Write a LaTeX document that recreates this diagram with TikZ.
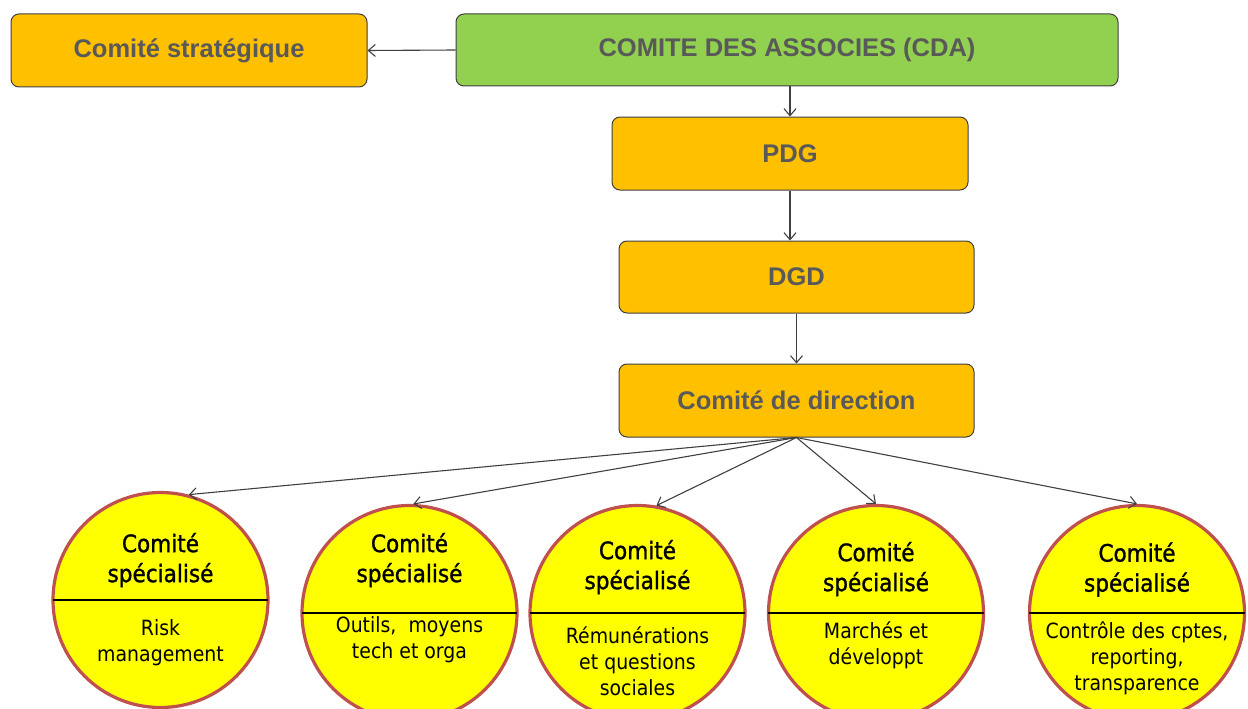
\documentclass[tikz,border=0pt]{standalone}
\usepackage{fontspec}
\setmainfont{Liberation Sans}
\newfontfamily\circfont[FakeStretch=0.9]{DejaVu Sans}
\newfontfamily\circheadfont[FakeStretch=0.9,FakeBold=1.2]{DejaVu Sans}
\usetikzlibrary{arrows.meta}
\definecolor{orangebox}{HTML}{FFC000}
\definecolor{greenbox}{HTML}{92D050}
\definecolor{yel}{HTML}{FFFF00}
\definecolor{ring}{HTML}{C0504D}
\definecolor{boxtext}{HTML}{595959}
\definecolor{edge}{HTML}{404040}
\begin{document}
\begin{tikzpicture}[x=1pt,y=-1pt,
 box/.style={draw=edge, line width=1pt, rounded corners=8pt, fill=orangebox,
   font=\fontsize{25.5}{30}\selectfont\bfseries, text=boxtext, inner sep=0pt},
 comite/.style={circle, draw=ring, line width=3.2pt, fill=yel, minimum size=215pt, inner sep=0pt},
 head/.style={font=\circheadfont\fontsize{24}{30}\selectfont, align=center, inner sep=0pt},
 sub/.style={font=\circfont\fontsize{21}{26}\selectfont, align=center, inner sep=0pt},
 link/.style={draw=edge, line width=1.1pt, -{Straight Barb[length=7pt,width=12pt]}},
 chord/.style={draw=black, line width=1.2pt}
]
\useasboundingbox (0,0) rectangle (1248,709);

% boxes
\node[box, minimum width=356pt, minimum height=73pt] (strat) at (189,50.5) {Comité stratégique};
\node[box, fill=greenbox, minimum width=662pt, minimum height=72pt] (cda) at (787,50) {COMITE DES ASSOCIES (CDA)};
\node[box, minimum width=356pt, minimum height=73pt] (pdg) at (790,153.5) {PDG};
\node[box, minimum width=355pt, minimum height=72pt] (dgd) at (796.5,277) {DGD};
\node[box, minimum width=355pt, minimum height=73pt] (cdd) at (796.5,400.5) {Comité de direction};

% circles
\node[comite] (c1) at (160.5,600) {};
\node[comite] (c2) at (409.5,613) {};
\node[comite] (c3) at (637.5,613) {};
\node[comite] (c4) at (876,613) {};
\node[comite] (c5) at (1137,613) {};

\foreach \c in {c1,c2,c3,c4,c5}{
  \draw[chord] ([xshift=1.5pt]\c.west) -- ([xshift=-1.5pt]\c.east);
}

% circle texts
\node[head] (h1) at (160.5,560) {Comité\\spécialisé};
\node[sub]  (s1) at (160.5,643) {Risk\\management};
\node[head] (h2) at (409.5,560) {Comité\\spécialisé};
\node[sub]  (s2) at (409.5,640) {Outils,\ \ moyens\\tech et orga};
\node[head] (h3) at (637.5,567) {Comité\\spécialisé};
\node[sub]  (s3) at (637.5,661) {Rémunérations\\et questions\\sociales};
\node[head] (h4) at (876,569) {Comité\\spécialisé};
\node[sub]  (s4) at (876,645.5) {Marchés et\\développt};
\node[head] (h5) at (1137,569.5) {Comité\\spécialisé};
\node[sub]  (s5) at (1137,658.5) {Contrôle des cptes,\\reporting,\\transparence};

% connectors
\draw[link] (cda.west) -- (strat.east);
\draw[link] (cda.south -| pdg.north) -- (pdg.north);
\draw[link] (pdg.south) -- (pdg.south |- dgd.north);
\draw[link] (dgd.south) -- (cdd.north);
\draw[link] (cdd.south) -- (c1.75);
\draw[link] (cdd.south) -- (c2.88);
\draw[link] (cdd.south) -- (c3.80);
\draw[link] (cdd.south) -- (c4.north);
\draw[link] (cdd.south) -- (c5.north);
\end{tikzpicture}
\end{document}
